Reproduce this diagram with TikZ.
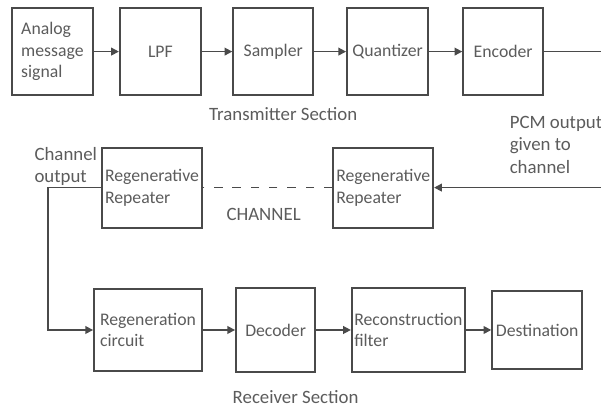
\documentclass[tikz,border=0pt]{standalone}
\usepackage{fontspec}
\setmainfont{Carlito}
\usetikzlibrary{arrows.meta}
\definecolor{paper}{HTML}{FFFFFF}
\definecolor{ink}{HTML}{4A4A4A}
\definecolor{textgrey}{HTML}{5C5C5C}
\tikzset{
  blockbox/.style={draw=ink,line width=1.3pt,fill=paper,align=left,
                   inner sep=1pt,text=textgrey,font=\blockfont},
  flowline/.style={draw=ink,line width=1.1pt},
  flowarrow/.style={flowline,-{Triangle[length=5.5pt,width=5.5pt]}},
  every node/.style={text=textgrey}
}
\newcommand{\blockfont}{\fontsize{12.6}{15.4}\selectfont}
\newcommand{\captionfont}{\fontsize{13.4}{15.8}\selectfont}

\begin{document}
\begin{tikzpicture}[x=1cm,y=1cm]
  \fill[paper] (0,0) rectangle (15.025,10.2);
  \useasboundingbox (0,0) rectangle (15.025,10.2);

  % ======================== TRANSMITTER ROW ========================
  \node[blockbox,minimum width=2.03cm,minimum height=2.18cm] (analog) at (1.31,8.91)
    {Analog\\message\\signal};
  \node[blockbox,minimum width=2.03cm,minimum height=2.18cm] (lpf) at (4.01,8.91)
    {LPF};
  \node[blockbox,minimum width=2.00cm,minimum height=2.18cm] (sampler) at (6.83,8.91)
    {Sampler};
  \node[blockbox,minimum width=2.03cm,minimum height=2.18cm] (quantizer) at (9.69,8.91)
    {Quantizer};
  \node[blockbox,minimum width=2.00cm,minimum height=2.18cm] (encoder) at (12.58,8.91)
    {Encoder};
  \coordinate (pcmout) at (15.025,8.91);

  \draw[flowarrow] (analog)--(lpf);
  \draw[flowarrow] (lpf)--(sampler);
  \draw[flowarrow] (sampler)--(quantizer);
  \draw[flowarrow] (quantizer)--(encoder);
  \draw[flowline] (encoder)--(pcmout);

  \node[anchor=center,font=\captionfont] (txlabel) at (7.08,7.35)
    {Transmitter Section};

  % ======================== CHANNEL ROW ========================
  \node[blockbox,minimum width=2.50cm,minimum height=2.00cm] (repin) at (9.58,5.51)
    {Regenerative\\Repeater};
  \node[blockbox,minimum width=2.50cm,minimum height=2.00cm] (repout) at (3.80,5.51)
    {Regenerative\\Repeater};
  \coordinate (chin) at (15.025,5.51);
  \coordinate (chbend) at (1.20,5.51);

  \draw[flowarrow] (chin)--(repin);
  \draw[flowline,dash pattern=on 6pt off 7pt] (repin)--(repout);

  \node[anchor=west,align=left,font=\captionfont] (pcmlabel) at (12.62,6.58)
    {PCM output\\given to\\channel};
  \node[anchor=west,align=left,font=\captionfont] (chlabel) at (0.74,6.04)
    {Channel\\output};
  \node[anchor=center,font=\captionfont] (chname) at (6.59,4.83)
    {CHANNEL};

  % ======================== RECEIVER ROW ========================
  \node[blockbox,minimum width=2.70cm,minimum height=2.05cm] (regen) at (3.70,1.95)
    {Regeneration\\circuit};
  \node[blockbox,minimum width=1.98cm,minimum height=2.12cm] (decoder) at (6.89,1.95)
    {Decoder};
  \node[blockbox,minimum width=2.83cm,minimum height=2.10cm] (recon) at (10.21,1.95)
    {Reconstruction\\filter};
  \node[blockbox,minimum width=2.25cm,minimum height=1.95cm] (dest) at (13.43,1.95)
    {Destination};

  \draw[flowarrow] (repout.west)--(chbend)|-(regen.west);
  \draw[flowarrow] (regen)--(decoder);
  \draw[flowarrow] (decoder)--(recon);
  \draw[flowarrow] (recon)--(dest);

  \node[anchor=center,font=\captionfont] (rxlabel) at (7.39,0.28)
    {Receiver Section};
\end{tikzpicture}
\end{document}
